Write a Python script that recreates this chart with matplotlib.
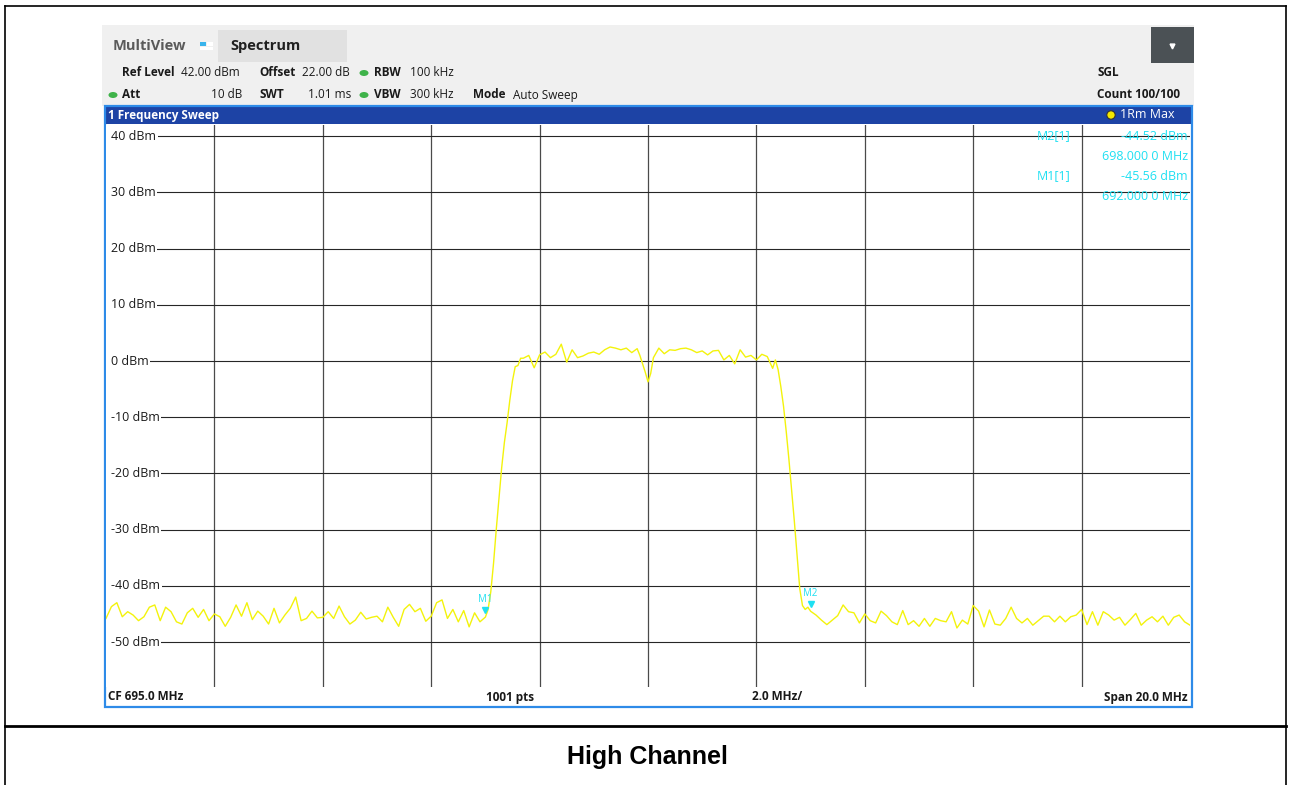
import matplotlib

matplotlib.use("Agg")
import matplotlib.pyplot as plt
import numpy as np
from matplotlib.patches import Rectangle, Ellipse, Circle
from matplotlib.transforms import blended_transform_factory

# ------------------------------------------------------------------ #
# Data (MHz / dBm)
# ------------------------------------------------------------------ #
noise_left_mhz = np.round(np.arange(685.0, 691.95, 0.1), 2)
noise_left_dbm = [
    -45.8, -43.7, -43.0, -45.5, -44.6, -45.2, -46.2, -45.5, -43.8, -43.4,
    -46.2, -43.8, -44.6, -46.4, -46.8, -44.8, -44.0, -45.6, -44.2, -46.2,
    -45.0, -45.5, -47.2, -45.6, -43.4, -45.4, -43.0, -46.0, -44.5, -45.4,
    -46.8, -44.0, -46.6, -45.2, -44.0, -42.0, -46.2, -45.8, -44.5, -45.7,
    -45.6, -44.6, -45.8, -43.6, -45.5, -46.8, -46.1, -44.7, -45.9, -45.6,
    -45.4, -46.4, -43.8, -45.6, -47.2, -44.2, -43.3, -44.6, -44.0, -46.3,
    -45.4, -43.0, -42.5, -45.8, -44.2, -46.4, -44.4, -47.3, -44.8, -46.4,
]

rise_mhz = [692.00, 692.05, 692.10, 692.15, 692.20, 692.25, 692.30,
            692.35, 692.40, 692.45, 692.50, 692.55, 692.60, 692.65]
rise_dbm = [-45.56, -44.2, -41.0, -36.0, -30.0, -24.5, -19.0,
            -14.5, -11.0, -7.0, -3.5, -1.0, -0.8, 0.5]

plateau_mhz = [692.7, 692.8, 692.9, 693.0, 693.1, 693.2, 693.3, 693.4, 693.5,
               693.6, 693.7, 693.8, 693.9, 694.0, 694.1, 694.2, 694.3, 694.4,
               694.5, 694.6, 694.7, 694.8, 694.85, 694.9, 694.95, 695.0,
               695.05, 695.1, 695.2, 695.3, 695.4, 695.5, 695.6, 695.7, 695.8,
               695.9, 696.0, 696.1, 696.2, 696.3, 696.4, 696.5, 696.6, 696.7,
               696.8, 696.9, 697.0, 697.1, 697.2, 697.3, 697.35]
plateau_dbm = [0.5, 1.0, -1.2, 1.1, 1.6, 0.6, 1.2, 3.0, -0.2,
               2.0, 0.6, 0.9, 1.4, 1.6, 1.2, 2.0, 2.5, 2.3,
               2.0, 2.3, 1.5, 2.2, 1.0, -0.5, -2.0, -3.7,
               -2.2, 0.6, 2.3, 1.3, 2.0, 1.9, 2.2, 2.3, 2.0,
               1.5, 1.8, 1.1, 1.8, 1.9, 0.2, 1.0, -0.5, 2.0,
               0.7, 1.0, 0.2, 1.2, 0.8, -1.3, 0.2]

fall_mhz = [697.40, 697.45, 697.50, 697.55, 697.60, 697.65, 697.70,
            697.75, 697.80, 697.85, 697.90, 697.95, 698.00]
fall_dbm = [-1.5, -4.5, -8.0, -12.5, -17.5, -23.0, -28.5,
            -34.5, -40.5, -43.5, -44.2, -43.8, -44.52]

noise_right_mhz = np.round(np.arange(698.1, 705.05, 0.1), 2)
noise_right_dbm = [
    -45.2, -46.1, -46.9, -46.1, -45.3, -43.4, -44.6, -44.8, -46.6,
    -45.0, -46.2, -46.6, -44.5, -45.3, -46.4, -46.9, -44.4, -46.9, -46.2,
    -47.2, -45.8, -47.2, -45.8, -46.2, -46.4, -44.6, -47.5, -46.1, -46.8,
    -43.5, -44.5, -47.3, -44.3, -46.8, -47.0, -45.8, -43.8, -45.8, -46.6,
    -45.8, -47.0, -46.2, -45.4, -45.4, -46.4, -45.4, -46.4, -45.5, -45.2,
    -44.2, -46.9, -44.6, -47.0, -44.6, -45.2, -46.1, -45.6, -47.0, -46.0,
    -44.9, -47.0, -46.1, -45.5, -46.4, -45.4, -47.0, -45.6, -45.2, -46.4,
    -47.0,
]

marker_names = ["M1", "M2"]
marker_mhz = [692.0, 698.0]
marker_dbm = [-45.56, -44.52]

level_ticks = [40, 30, 20, 10, 0, -10, -20, -30, -40, -50]
freq_grid = [687, 689, 691, 693, 695, 697, 699, 701, 703]

# ------------------------------------------------------------------ #
# Figure scaffolding (pixel-based layout)
# ------------------------------------------------------------------ #
W, H = 1290, 785
UI_FONT = ["Open Sans", "DejaVu Sans"]
CYAN = "#1ee0f2"
TRACE = "#f3f30c"

fig = plt.figure(figsize=(W / 100, H / 100), dpi=100)
fig.patch.set_facecolor("white")

deco = fig.add_axes([0, 0, 1, 1], zorder=0)
deco.set_xlim(0, W)
deco.set_ylim(H, 0)
deco.axis("off")


def ptext(x, y, s, size=8.5, weight="normal", color="#1a1a1a", ha="left", **kw):
    """Figure text placed in screenshot pixel coordinates."""
    fig.text(x / W, 1 - y / H, s, fontsize=size, fontweight=weight, color=color,
             ha=ha, va="center", family=kw.pop("family", UI_FONT), zorder=10, **kw)


def rect(x0, y0, x1, y1, **kw):
    deco.add_patch(Rectangle((x0, y0), x1 - x0, y1 - y0, **kw))


# page borders
deco.plot([5, 1286], [6, 6], color="black", lw=1.2)
deco.plot([5, 5], [6, 785], color="black", lw=1.2)
deco.plot([1286, 1286], [6, 785], color="black", lw=1.2)
deco.plot([5, 1286], [726, 726], color="black", lw=2.0)

# instrument header
rect(102, 25, 1194, 106, facecolor="#f0f0f0", edgecolor="none")
rect(218, 30, 347, 62, facecolor="#e1e1e1", edgecolor="none")
rect(1151, 27, 1194, 63, facecolor="#4b5155", edgecolor="none")
deco.plot([1172], [46], marker="v", color="white", markersize=3.5)
rect(200, 42, 206, 46, facecolor="#3ab4ec", edgecolor="none")
rect(207, 42, 213, 46, facecolor="white", edgecolor="none")
rect(200, 47, 213, 50, facecolor="white", edgecolor="none")
for gx, gy in [(113, 95), (364, 73), (364, 95)]:
    deco.add_patch(Ellipse((gx, gy), 9, 6, facecolor="#3fb34a", edgecolor="none"))

ptext(113, 46, "MultiView", size=10.5, weight="bold", color="#5a5a5a")
ptext(230, 46, "Spectrum", size=10.5, weight="bold", color="#202020")
ptext(122, 73, "Ref Level", weight="bold")
ptext(181, 73, "42.00 dBm")
ptext(259, 73, "Offset", weight="bold")
ptext(302, 73, "22.00 dB")
ptext(374, 73, "RBW", weight="bold")
ptext(410, 73, "100 kHz")
ptext(122, 95, "Att", weight="bold")
ptext(242, 95, "10 dB", ha="right")
ptext(259, 95, "SWT", weight="bold")
ptext(351, 95, "1.01 ms", ha="right")
ptext(374, 95, "VBW", weight="bold")
ptext(410, 95, "300 kHz")
ptext(473, 95, "Mode", weight="bold")
ptext(513, 95, "Auto Sweep")
ptext(1097, 73, "SGL", weight="bold")
ptext(1097, 95, "Count 100/100", weight="bold")

# window title bar, frame and status bar
rect(105, 106, 1191, 124, facecolor="#1d43a5", edgecolor="none")
ptext(108, 115, "1 Frequency Sweep", weight="bold", color="white")
deco.add_patch(Circle((1111, 115), 4.2, facecolor="#f4e800", edgecolor="#333333", lw=0.8))
ptext(1120, 115, "1Rm Max", size=9, color="white")
rect(104.5, 106, 1191.5, 706.5, facecolor="none", edgecolor="#2e8be8", lw=1.6)
ptext(108, 697, "CF 695.0 MHz", weight="bold")
ptext(486, 697, "1001 pts", weight="bold")
ptext(752, 697, "2.0 MHz/", weight="bold")
ptext(1188, 697, "Span 20.0 MHz", weight="bold", ha="right")

# caption
ptext(647, 757, "High Channel", size=18, weight="bold", color="black", ha="center",
      family=["Liberation Sans", "DejaVu Sans"])

# ------------------------------------------------------------------ #
# Spectrum plot
# ------------------------------------------------------------------ #
ax = fig.add_axes([106 / W, 1 - 687 / H, 1084 / W, 562 / H], zorder=2)
ax.set_facecolor("white")
ax.set_xlim(685, 705)
ax.set_ylim(-58, 42)
for spine in ax.spines.values():
    spine.set_visible(False)
ax.set_xticks(freq_grid)
ax.set_yticks(level_ticks)
ax.tick_params(length=0, labelbottom=False, labelleft=False)
ax.grid(axis="x", color="#4a4a4a", lw=0.9)
ax.grid(axis="y", color="#262626", lw=0.8)
ax.set_axisbelow(True)
# the level labels sit in a white margin strip: grid lines start after the text
ax.add_patch(Rectangle((0, 0), 5 / 1084, 1, transform=ax.transAxes,
                       facecolor="white", edgecolor="none", zorder=1))

freq = np.concatenate([noise_left_mhz, rise_mhz, plateau_mhz, fall_mhz, noise_right_mhz])
level = np.concatenate([noise_left_dbm, rise_dbm, plateau_dbm, fall_dbm, noise_right_dbm])
ax.plot(freq, level, color=TRACE, lw=1.0, zorder=3)

left_blend = blended_transform_factory(ax.transAxes, ax.transData)
for v in level_ticks:
    ax.text(0.0046, v, f"{v} dBm", transform=left_blend, ha="left", va="center",
            fontsize=9, family=UI_FONT, color="#1a1a1a", zorder=4,
            bbox=dict(facecolor="white", edgecolor="none", pad=1.2))

for name, f, lv in zip(marker_names, marker_mhz, marker_dbm):
    ax.plot([f], [lv + 1.2], marker="v", color=CYAN, markersize=5, zorder=5)
    ax.text(f, lv + 3.2, name, color=CYAN, fontsize=7, family=UI_FONT,
            ha="center", va="center", zorder=5)

# marker table (top right)
table_rows = []
for name, f, lv in sorted(zip(marker_names, marker_mhz, marker_dbm), reverse=True):
    table_rows.append((f"{name}[1]", f"{lv:.2f} dBm"))
    table_rows.append(("", f"{f:.3f} 0 MHz"))
for i, (label, value) in enumerate(table_rows):
    y = 136 + 20 * i
    if label:
        ptext(1071, y, label, size=9, color=CYAN, ha="right")
    ptext(1188, y, value, size=9, color=CYAN, ha="right")

fig.savefig("out.png", dpi=100)
